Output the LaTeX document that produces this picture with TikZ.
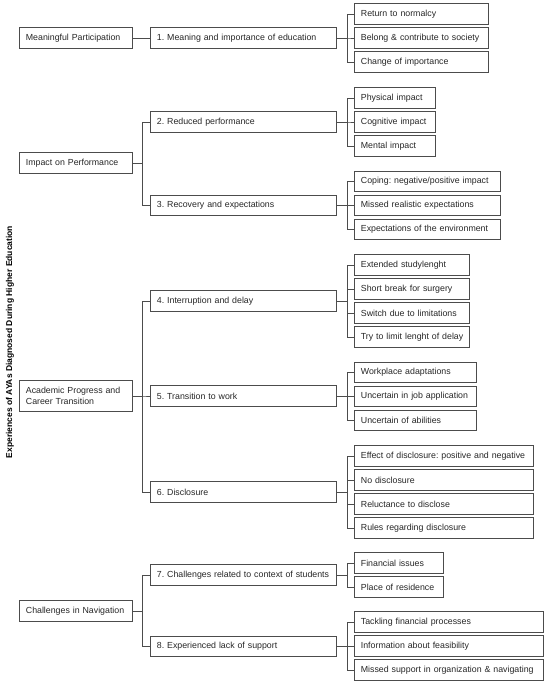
\documentclass[tikz,border=0pt]{standalone}
\usepackage{fontspec}
\setmainfont{Liberation Sans}
\frenchspacing
\hbadness=10000 \hfuzz=100pt
\begin{document}
\begin{tikzpicture}[x=1pt,y=-1pt,
  line width=0.8pt,
  every node/.style={font=\fontsize{8.8}{10.5}\selectfont, text=black!85},
  bxbase/.style={draw=black!70, anchor=west, minimum height=20.5pt, inner xsep=6.5pt, inner ysep=2pt, text width=#1, align=left},
  bx/.style={bxbase=#1, execute at begin node={\hbox\bgroup}, execute at end node={\egroup}},
  conn/.style={draw=black!70, line width=0.8pt},
  ttl/.style={font=\bfseries\fontsize{8.5}{10}\selectfont, rotate=90, text=black}
]
\useasboundingbox (0,0) rectangle (550,685);
\node[ttl] (title) at (10,342) {Experiences of AYAs Diagnosed During Higher Education};

% categories
\node[bx=100pt] (c1) at (19,38) {Meaningful Participation};
\node[bx=100pt] (c2) at (19,163) {Impact on Performance};
\node[bxbase=100pt, minimum height=31pt] (c3) at (19,396) {Academic Progress and\\Career Transition};
\node[bx=100pt] (c4) at (19,611) {Challenges in Navigation};

% themes
\node[bx=173pt] (t1) at (150,38) {1. Meaning and importance of education};
\node[bx=173pt] (t2) at (150,122) {2. Reduced performance};
\node[bx=173pt] (t3) at (150,205.5) {3. Recovery and expectations};
\node[bx=173pt] (t4) at (150,301) {4. Interruption and delay};
\node[bx=173pt] (t5) at (150,396) {5. Transition to work};
\node[bx=173pt] (t6) at (150,492) {6. Disclosure};
\node[bx=173pt] (t7) at (150,575) {7. Challenges related to context of students};
\node[bx=173pt] (t8) at (150,646.5) {8. Experienced lack of support};

% subthemes
\node[bx=121pt] (s11) at (354,14) {Return to normalcy};
\node[bx=121pt] (s12) at (354,38) {Belong \& contribute to society};
\node[bx=121pt] (s13) at (354,62) {Change of importance};

\node[bx=68pt] (s21) at (354,98) {Physical impact};
\node[bx=68pt] (s22) at (354,122) {Cognitive impact};
\node[bx=68pt] (s23) at (354,146) {Mental impact};

\node[bx=133pt] (s31) at (354,181.5) {Coping: negative/positive impact};
\node[bx=133pt] (s32) at (354,205.5) {Missed realistic expectations};
\node[bx=133pt] (s33) at (354,229.5) {Expectations of the environment};

\node[bx=102pt] (s41) at (354,265) {Extended studylenght};
\node[bx=102pt] (s42) at (354,289) {Short break for surgery};
\node[bx=102pt] (s43) at (354,313) {Switch due to limitations};
\node[bx=102pt] (s44) at (354,337) {Try to limit lenght of delay};

\node[bx=109pt] (s51) at (354,372.5) {Workplace adaptations};
\node[bx=109pt] (s52) at (354,396.5) {Uncertain in job application};
\node[bx=109pt] (s53) at (354,420.5) {Uncertain of abilities};

\node[bx=166pt] (s61) at (354,456) {Effect of disclosure: positive and negative};
\node[bx=166pt] (s62) at (354,480) {No disclosure};
\node[bx=166pt] (s63) at (354,504) {Reluctance to disclose};
\node[bx=166pt] (s64) at (354,528) {Rules regarding disclosure};

\node[bx=76pt] (s71) at (354,563) {Financial issues};
\node[bx=76pt] (s72) at (354,587) {Place of residence};

\node[bx=176pt] (s81) at (354,622) {Tackling financial processes};
\node[bx=176pt] (s82) at (354,646) {Information about feasibility};
\node[bx=176pt] (s83) at (354,670) {Missed support in organization \& navigating};

% connectors category -> theme
\draw[conn] (c1.east) -- (t1.west);
\foreach \t in {t2,t3} \draw[conn] (c2.east) -- ++(10,0) |- (\t.west);
\foreach \t in {t4,t5,t6} \draw[conn] (c3.east) -- ++(10,0) |- (\t.west);
\foreach \t in {t7,t8} \draw[conn] (c4.east) -- ++(10,0) |- (\t.west);

% connectors theme -> subtheme
\foreach \s in {s11,s12,s13} \draw[conn] (t1.east) -- ++(11,0) |- (\s.west);
\foreach \s in {s21,s22,s23} \draw[conn] (t2.east) -- ++(11,0) |- (\s.west);
\foreach \s in {s31,s32,s33} \draw[conn] (t3.east) -- ++(11,0) |- (\s.west);
\foreach \s in {s41,s42,s43,s44} \draw[conn] (t4.east) -- ++(11,0) |- (\s.west);
\foreach \s in {s51,s52,s53} \draw[conn] (t5.east) -- ++(11,0) |- (\s.west);
\foreach \s in {s61,s62,s63,s64} \draw[conn] (t6.east) -- ++(11,0) |- (\s.west);
\foreach \s in {s71,s72} \draw[conn] (t7.east) -- ++(11,0) |- (\s.west);
\foreach \s in {s81,s82,s83} \draw[conn] (t8.east) -- ++(11,0) |- (\s.west);
\end{tikzpicture}
\end{document}
